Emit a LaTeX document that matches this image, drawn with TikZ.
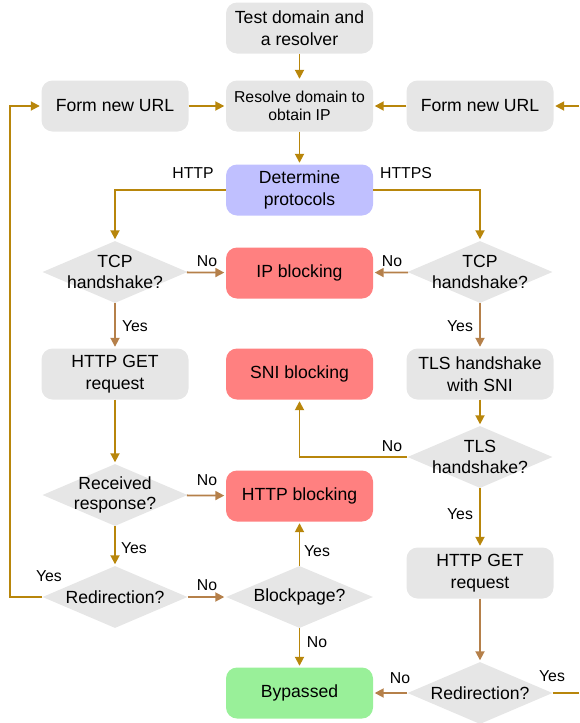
\documentclass[tikz,border=0pt]{standalone}
\usepackage{fontspec}
\setmainfont{Liberation Sans}
\usetikzlibrary{shapes.geometric,arrows.meta}
\definecolor{boxgray}{HTML}{E6E6E6}
\definecolor{blueb}{HTML}{C0C0FF}
\definecolor{redb}{HTML}{FF8080}
\definecolor{greenb}{HTML}{99F099}
\definecolor{goldc}{HTML}{B8860B}
\definecolor{brownc}{HTML}{B5804A}
\begin{document}
\begin{tikzpicture}[x=1pt,y=-1pt,
  box/.style={rectangle, rounded corners=11pt, fill=boxgray, minimum width=147pt, minimum height=51pt, align=center, font=\fontsize{17.6}{21.5}\selectfont, inner sep=0pt},
  dia/.style={diamond, fill=boxgray, minimum width=145pt, minimum height=62pt, inner sep=0pt},
  dtext/.style={align=center, font=\fontsize{17.6}{20.7}\selectfont, inner sep=0pt},
  lab/.style={font=\fontsize{15.8}{18}\selectfont, inner sep=0pt},
  ga/.style={goldc, line width=1.8pt, -{Triangle[length=9pt,width=9pt]}, shorten >=1.5pt},
  ba/.style={ga, brownc},
]
\useasboundingbox (0,0) rectangle (579,723);

% boxes
\node[box] (test) at (299.5,28) {Test domain and\\a resolver};
\node[box, font=\fontsize{15.8}{18.3}\selectfont] (resolve) at (299.5,106) {Resolve domain to\\obtain IP};
\node[box] (formL) at (115,106) {Form new URL};
\node[box] (formR) at (480,106) {Form new URL};
\node[box, fill=blueb] (det) at (299.5,190) {Determine\\protocols};
\node[box, fill=redb] (ip) at (299.5,273) {IP blocking};
\node[box] (getL) at (115,374) {HTTP GET\\request};
\node[box, fill=redb] (sni) at (299.5,374) {SNI blocking};
\node[box] (tlssni) at (480,374) {TLS handshake\\with SNI};
\node[box, fill=redb] (httpb) at (299.5,496) {HTTP blocking};
\node[box] (getR) at (480,573) {HTTP GET\\request};
\node[box, fill=greenb] (bypass) at (299.5,693) {Bypassed};

% diamonds
\node[dia] (tcpL) at (115,272) {};
\node[dtext] (tcpLt) at (tcpL) {TCP\\handshake?};
\node[dia] (tcpR) at (480,272) {};
\node[dtext] (tcpRt) at (tcpR) {TCP\\handshake?};
\node[dia] (tls) at (480,457) {};
\node[dtext] (tlst) at (tls) {TLS\\handshake?};
\node[dia] (recv) at (115,495) {};
\node[dtext] (recvt) at (recv) {Received\\response?};
\node[dia] (redL) at (115,597) {};
\node[dtext] (redLt) at (redL) {Redirection?};
\node[dia, minimum width=147pt] (blockp) at (299.5,597) {};
\node[dtext] (blockpt) at (blockp) {Blockpage?};
\node[dia] (redR) at (480,693) {};
\node[dtext] (redRt) at (redR) {Redirection?};

% free ends
\coordinate (loopL) at (10,597);
\coordinate (inR) at (579,106);
\coordinate (outR) at (579,693);

% connectors
\draw[ga] (test) -- (resolve);
\draw[ga] (formL) -- (resolve);
\draw[ga] (formR) -- (resolve);
\draw[ga] (inR) -- (formR);
\draw[ga] (resolve) -- (det);
\draw[ga] (det.west) -| (tcpL.north);
\draw[ga] (det.east) -| (tcpR.north);
\draw[ba] (tcpL) -- (ip);
\draw[ba] (tcpR) -- (ip);
\draw[ba] (tcpL) -- (getL);
\draw[ba] (tcpR) -- (tlssni);
\draw[ga] (getL) -- (recv);
\draw[ga] (tlssni) -- (tls);
\draw[ga] (tls.west) -| (sni.south);
\draw[ba] (recv) -- (httpb);
\draw[ga] (recv) -- (redL);
\draw[ba] (redL) -- (blockp);
\draw[ga] (redL.west) -- (loopL) |- (formL.west);
\draw[ga] (blockp) -- (httpb);
\draw[ga] (blockp) -- (bypass);
\draw[ga] (tls) -- (getR);
\draw[ba] (getR) -- (redR);
\draw[ba] (redR) -- (bypass);
\draw[goldc, line width=1.8pt] (redR.east) -- (outR);

% labels
\node[lab] (lHTTP) at (193,173) {HTTP};
\node[lab] (lHTTPS) at (406,173) {HTTPS};
\node[lab] (l1) at (207,261) {No};
\node[lab] (l2) at (392,261) {No};
\node[lab] (l3) at (135,326) {Yes};
\node[lab] (l4) at (460,326) {Yes};
\node[lab] (l5) at (392,446) {No};
\node[lab] (l6) at (207,480) {No};
\node[lab] (l7) at (134,548) {Yes};
\node[lab] (l8) at (49,576) {Yes};
\node[lab] (l9) at (207,585) {No};
\node[lab] (l10) at (317,551) {Yes};
\node[lab] (l11) at (317,642) {No};
\node[lab] (l12) at (460,514) {Yes};
\node[lab] (l13) at (400,678) {No};
\node[lab] (l14) at (552,676) {Yes};
\end{tikzpicture}
\end{document}
